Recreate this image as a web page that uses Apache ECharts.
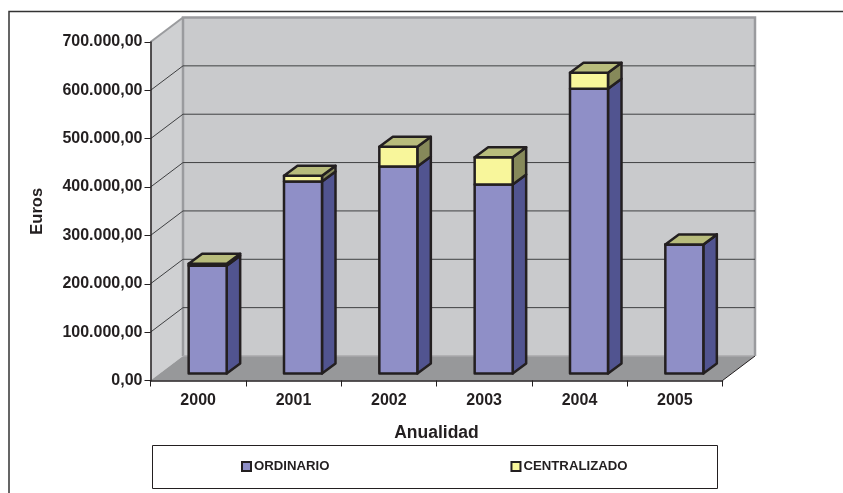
<!DOCTYPE html>
<html><head><meta charset="utf-8">
<style>html,body{margin:0;padding:0;background:#fff}#c{width:843px;height:493px}</style>
<script src="https://cdn.jsdelivr.net/npm/echarts@6/dist/echarts.min.js"></script>
</head><body><div id="c"></div>
<script>
const categories = ['2000','2001','2002','2003','2004','2005'];
const ordinario = [223000,397000,428000,391000,589000,267000];
const centralizado = [4000,12000,41000,56000,33000,0];
const yTicks = [0,100000,200000,300000,400000,500000,600000,700000];
const FONT = '"Liberation Sans", Arial, sans-serif';
const INK = '#231f20';
const WALL_D = [32.5,-24.5];   // depth of the chart box
const BAR_F = [9.5,-7];        // front face of bars, inside the box
const BAR_D = [13.5,-10];      // depth of bars
const BAR_W = 38;

const chart = echarts.init(document.getElementById('c'), null, {renderer:'canvas'});
const poly = (pts, fill, stroke, lw) => ({type:'polygon', shape:{points:pts}, style:{fill, stroke:stroke||null, lineWidth:lw||0, lineJoin:'round'}});
const add = (p,d) => [p[0]+d[0], p[1]+d[1]];

function renderWalls(params, api){
  const band = api.size([1,0])[0];
  const a = api.coord([0,0]), b = api.coord([categories.length-1,0]), t = api.coord([0,700000]);
  const l = a[0]-band/2, r = b[0]+band/2, y0 = a[1], y1 = t[1];
  const fl=[l,y0], fr=[r,y0], tl=[l,y1];
  const bl=add(fl,WALL_D), br=add(fr,WALL_D), btl=add(tl,WALL_D), btr=[br[0],btl[1]];
  return {type:'group', children:[
    poly([fl,tl,btl,bl],'#cfd0d2'),
    poly([btl,btr,br,bl],'#c9cacc'),
    poly([fl,fr,br,bl],'#97989a'),
    {type:'polyline', shape:{points:[bl,btl,btr,br]}, style:{fill:null, stroke:'#9a9b9e', lineWidth:2.5}},
    {type:'polyline', shape:{points:[tl,btl]}, style:{fill:null, stroke:'#9a9b9e', lineWidth:2}},
    {type:'polyline', shape:{points:[bl,br]}, style:{fill:null, stroke:'#a8a9ab', lineWidth:1.5}},
    {type:'polyline', shape:{points:[fr,br]}, style:{fill:null, stroke:INK, lineWidth:1}}
  ]};
}
function renderGrid(params, api){
  const v = api.value(0);
  if (v===0 || v===700000) return {type:'group', children:[]};
  const band = api.size([1,0])[0];
  const p = api.coord([0,v]), q = api.coord([categories.length-1,v]);
  const fl=[p[0]-band/2,p[1]], bl=add(fl,WALL_D), br=[q[0]+band/2+WALL_D[0], bl[1]];
  return {type:'polyline', shape:{points:[fl,bl,br]}, style:{fill:null, stroke:'#3f4042', lineWidth:1}};
}
function barBox(api, lo, hi, front, side, top){
  const i = api.value(0);
  const c0 = api.coord([i,lo]), c1 = api.coord([i,hi]);
  const x0 = c0[0]-BAR_W/2+BAR_F[0], x1 = x0+BAR_W, yb = c0[1]+BAR_F[1], yt = c1[1]+BAR_F[1];
  const a=[x0,yt], b=[x1,yt], c=[x1,yb], d=[x0,yb];
  const kids = [
    poly([b,add(b,BAR_D),add(c,BAR_D),c], side, INK, 2.5),
    poly([a,b,c,d], front, INK, 2.5)
  ];
  if (top) kids.push(poly([a,add(a,BAR_D),add(b,BAR_D),b], top, INK, 2.5));
  return {type:'group', children:kids};
}
const rows1 = categories.map((c,i)=>[i,ordinario[i]]);
const rows2 = categories.map((c,i)=>[i,ordinario[i],centralizado[i]]);

chart.setOption({
  animation:false,
  backgroundColor:'#fff',
  textStyle:{fontFamily:FONT},
  grid:{left:150.5, right:120.5, top:42, bottom:112.5, containLabel:false},
  xAxis:{type:'category', data:categories, z:6,
    axisLine:{lineStyle:{color:INK,width:1.5}},
    axisTick:{show:true,length:6,alignWithLabel:false,lineStyle:{color:INK,width:1}},
    axisLabel:{color:INK,fontSize:16,fontWeight:'bold',fontFamily:FONT,margin:12},
    name:'Anualidad', nameLocation:'middle', nameGap:44,
    nameTextStyle:{color:INK,fontSize:17.5,fontWeight:'bold',fontFamily:FONT}},
  yAxis:{type:'value', min:0, max:700000, interval:100000, z:6,
    splitLine:{show:false},
    axisLine:{show:true,lineStyle:{color:INK,width:1.5}},
    axisTick:{show:true,length:6,lineStyle:{color:INK,width:1}},
    axisLabel:{color:INK,fontSize:16,fontWeight:'bold',fontFamily:FONT,margin:8,
      formatter:v=>{const s=String(v).replace(/\B(?=(\d{3})+$)/g,'.');return s+',00';}},
    name:'Euros', nameLocation:'middle', nameGap:105, nameRotate:90,
    nameTextStyle:{color:INK,fontSize:16.5,fontWeight:'bold',fontFamily:FONT}},
  legend:{data:['ORDINARIO','CENTRALIZADO'], left:241, top:460, itemWidth:9, itemHeight:9, itemGap:181,
    padding:0, selectedMode:false, icon:'rect',
    itemStyle:{borderJoin:'miter'},
    textStyle:{color:INK,fontSize:13.2,fontWeight:'bold',fontFamily:FONT,padding:[0,0,0,-2]}},
  graphic:[
    {type:'polyline', z:-1, shape:{points:[[9,493],[9,11.5],[843,11.5]]}, style:{fill:null,stroke:'#333',lineWidth:1.5}},
    {type:'rect', z:-1, shape:{x:152.5,y:445.5,width:565,height:43}, style:{fill:'#fff',stroke:INK,lineWidth:1}}
  ],
  series:[
    {type:'custom', z:1, silent:true, clip:false, data:[[0]], renderItem:renderWalls, encode:{y:0}, tooltip:{show:false}},
    {type:'custom', z:2, silent:true, clip:false, data:yTicks.map(v=>[v]), renderItem:renderGrid, encode:{y:0}},
    {type:'custom', name:'ORDINARIO', z:8, clip:false, data:rows1, encode:{x:0,y:1},
      itemStyle:{color:'#8f8fc7',borderColor:INK,borderWidth:2.5},
      renderItem:(p,api)=>barBox(api,0,api.value(1),'#8f8fc7','#515490',null)},
    {type:'custom', name:'CENTRALIZADO', z:9, clip:false, data:rows2, encode:{x:0,y:1},
      itemStyle:{color:'#f8f69b',borderColor:INK,borderWidth:2.5},
      renderItem:(p,api)=>barBox(api,api.value(1),api.value(1)+api.value(2),'#f8f69b','#86895a','#b8bc7c')}
  ]
});
</script></body></html>
